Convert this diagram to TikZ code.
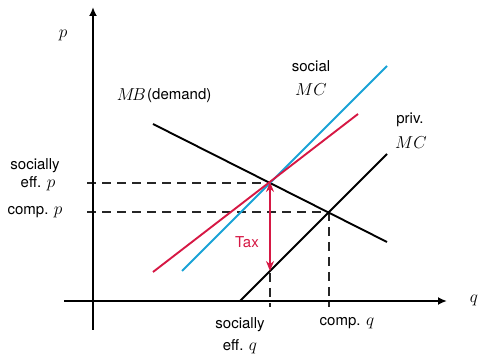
\documentclass[tikz,border=0pt]{standalone}
\usepackage{fontspec}
\setsansfont{TeX Gyre Heros}
\usetikzlibrary{arrows.meta}
\definecolor{taxred}{RGB}{214,24,68}
\definecolor{socblue}{RGB}{25,163,214}
\newcommand\mymath[1]{{\fontsize{18}{18}\selectfont$#1$}}
\begin{document}
\begin{tikzpicture}[x=1pt,y=-1pt,
  axis/.style={line width=1.8pt,-{Latex[length=9pt,width=8pt]}},
  curve/.style={line width=1.9pt},
  guide/.style={line width=1.4pt,dash pattern=on 9pt off 6pt,draw=black!85},
  taxarrow/.style={line width=1.8pt,draw=taxred,{Stealth[length=10pt,width=8pt]}-{Stealth[length=10pt,width=8pt]}},
  lbl/.style={font=\sffamily\fontsize{15}{17}\selectfont,inner sep=0pt},
  mlbl/.style={font=\fontsize{18}{20}\selectfont,inner sep=0pt}]
\useasboundingbox (0,0) rectangle (480,355);
% axes
\coordinate (yb) at (93,330); \coordinate (yt) at (93,7);
\coordinate (xl) at (64,301); \coordinate (xr) at (447,301);
% key points
\coordinate (S) at (270,183);
\coordinate (C) at (329,212);
\coordinate (T) at (270,271);
\coordinate (Sl) at (87,183); \coordinate (Cl) at (87,212);
\coordinate (Sb) at (270,307); \coordinate (Cb) at (329,307);
% curves
\coordinate (mb1) at (153,124); \coordinate (mb2) at (387,242);
\coordinate (pm1) at (240,301); \coordinate (pm2) at (387,154);
\coordinate (sm1) at (182,271); \coordinate (sm2) at (387,66);
\coordinate (rm1) at (153,272); \coordinate (rm2) at (358,114);
% guides
\draw[guide] (Sl) -- (S);
\draw[guide] (Cl) -- (C);
\draw[guide] (S) -- (Sb);
\draw[guide] (C) -- (Cb);
% axes
\draw[axis] (yb) -- (yt);
\draw[axis] (xl) -- (xr);
% lines
\draw[curve] (mb1) -- (mb2);
\draw[curve] (pm1) -- (pm2);
\draw[curve,draw=socblue] (sm1) -- (sm2);
\draw[curve,draw=taxred] (rm1) -- (rm2);
\draw[taxarrow] ([yshift=1pt]S) -- (T);
% labels
\node[mlbl] (plab) at (63,35) {$p$};
\node[mlbl] (qlab) at (474,300) {$q$};
\node[mlbl,anchor=east] (mb) at (146,95) {$M\!B$};
\node[lbl,anchor=west] (dem) at (147,96) {(demand)};
\node[lbl] (soc) at (311,66) {social};
\node[mlbl] (smc) at (311,90) {$MC$};
\node[lbl] (priv) at (410,120) {priv.};
\node[mlbl] (pmc) at (411,143) {$MC$};
\node[lbl] (tax) at (247,242) {\color{taxred}Tax};
\node[lbl] (se1) at (35,166) {socially};
\node[lbl] (se2) at (38,184) {eff. \mymath{p}};
\node[lbl] (cp) at (35,212) {comp. \mymath{p}};
\node[lbl] (sq1) at (240,325) {socially};
\node[lbl] (sq2) at (240,347) {eff. \mymath{q}};
\node[lbl] (cq) at (347,323) {comp. \mymath{q}};
\end{tikzpicture}
\end{document}
